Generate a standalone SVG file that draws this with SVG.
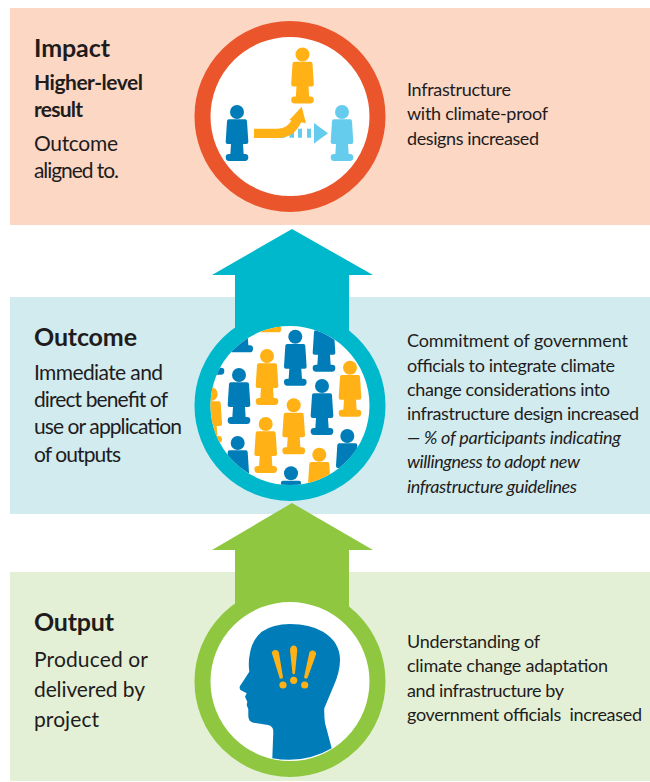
<svg xmlns="http://www.w3.org/2000/svg" xmlns:xlink="http://www.w3.org/1999/xlink" width="650" height="782" viewBox="0 0 650 782">
<style>
text{font-family:Lato,"Open Sans","Liberation Sans",sans-serif;fill:#1f1c1d;white-space:pre}
.h{font-size:25px;font-weight:700}
.b{font-size:21px;font-weight:700}
.l{font-size:21px}
.r{font-size:18px}
.i{font-size:18px;font-style:italic}
.blue{fill:#007db8}.yel{fill:#ffb116}.sky{fill:#66ccee}
</style>
<defs>
<g id="p"><g transform="scale(.3333)"><circle cx="0" cy="0" r="21"/><path d="M-24,22H24Q30,22 30,28L34,90Q34,96 28,96H18L20,126H24Q34,126 34,136Q34,147 24,147H-24Q-34,147 -34,136Q-34,126 -24,126H-20L-18,96H-28Q-34,96 -34,90L-30,28Q-30,22 -24,22Z"/></g></g>
<clipPath id="cp"><circle cx="290" cy="405.500" r="79.500"/></clipPath>
</defs>
<rect x="10" y="8" width="640" height="217" fill="#fbd7c4"/>
<rect x="10" y="297" width="640" height="217" fill="#d1ebee"/>
<rect x="10" y="572" width="640" height="209" fill="#e3f0d5"/>
<g id="connectors">
<path d="M292,229L373,275H349V340H235V275H212Z" fill="#00b8cc"/>
<path d="M292,503L373,550H349V620H235V550H212Z" fill="#8fc740"/>
</g>
<g id="impact">
<circle cx="290" cy="116.500" r="87.500" fill="#fff" stroke="#ea552b" stroke-width="16"/>
<use xlink:href="#p" href="#p" x="237" y="112" class="blue"/>
<use xlink:href="#p" href="#p" x="302.500" y="54.500" class="yel"/>
<use xlink:href="#p" href="#p" x="342" y="112" class="sky"/>
<path d="M280,133.300h5M289.500,133.300h4.500M298,133.300h4M307,133.300h4" stroke="#66ccee" stroke-width="9" fill="none"/>
<path d="M314,123L328,133.300L314,143.500Z" fill="#66ccee"/>
<path d="M254,133.300H278Q291,133.300 297,120" stroke="#ffb116" stroke-width="9.300" fill="none"/>
<path d="M289.300,120L301.700,106.700L306,123.300Z" fill="#ffb116"/>
<text x="34" y="56.700" class="h" textLength="76">Impact</text>
<text x="34" y="90" class="b" textLength="109">Higher-level</text>
<text x="34" y="116.700" class="b" textLength="49">result</text>
<text x="34" y="151" class="l" textLength="84">Outcome</text>
<text x="34" y="177.700" class="l" textLength="85">aligned to.</text>
<text x="407" y="96" class="r" textLength="104">Infrastructure</text>
<text x="407" y="120" class="r" textLength="141">with climate-proof</text>
<text x="407" y="145" class="r" textLength="132">designs increased</text>
</g>
<g id="outcome">
<circle cx="290" cy="405.500" r="87.500" fill="#fff" stroke="#00b8cc" stroke-width="16"/>
<g clip-path="url(#cp)">
<g class="blue">
<use xlink:href="#p" href="#p" x="295.300" y="336.700"/><use xlink:href="#p" href="#p" x="239" y="375"/><use xlink:href="#p" href="#p" x="322" y="386"/><use xlink:href="#p" href="#p" x="237.700" y="443"/><use xlink:href="#p" href="#p" x="347.300" y="436"/><use xlink:href="#p" href="#p" x="291" y="473.300"/><use xlink:href="#p" href="#p" x="324" y="322.700"/><use xlink:href="#p" href="#p" x="241.700" y="303.300"/><use xlink:href="#p" href="#p" x="213" y="325.700"/><use xlink:href="#p" href="#p" x="377" y="418"/>
</g>
<g class="yel">
<use xlink:href="#p" href="#p" x="267" y="356"/><use xlink:href="#p" href="#p" x="350" y="367.700"/><use xlink:href="#p" href="#p" x="293.700" y="405.300"/><use xlink:href="#p" href="#p" x="265.700" y="424"/><use xlink:href="#p" href="#p" x="319.300" y="454.700"/><use xlink:href="#p" href="#p" x="210.700" y="394"/><use xlink:href="#p" href="#p" x="270" y="283.300"/>
</g>
</g>
<text x="34" y="345.700" class="h" textLength="103">Outcome</text>
<text x="34" y="380" class="l" textLength="129">Immediate and</text>
<text x="34" y="407.300" class="l" textLength="134">direct benefit of</text>
<text x="34" y="434.300" class="l" textLength="148">use or application</text>
<text x="34" y="461.700" class="l" textLength="87">of outputs</text>
<text x="407" y="346.700" class="r" textLength="221">Commitment of government</text>
<text x="407" y="371.700" class="r" textLength="208">officials to integrate climate</text>
<text x="407" y="395.700" class="r" textLength="203">change considerations into</text>
<text x="407" y="420" class="r" textLength="232">infrastructure design increased</text>
<text x="407" y="444" class="i" textLength="214">— % of participants indicating</text>
<text x="407" y="468" class="i" textLength="173">willingness to adopt new</text>
<text x="407" y="492.700" class="i" textLength="170">infrastructure guidelines</text>
</g>
<g id="output">
<circle cx="290" cy="681.500" r="87.500" fill="#fff" stroke="#8fc740" stroke-width="16"/>
<path d="M272.300,758.300L273.300,732Q273.500,726 268,725L253.300,722.700Q248.300,721.500 248.300,716L248.300,709.300L246.700,705L247.300,701.700L245,696.700L246.700,693.300L240.500,690Q239,688 240,686L249.300,671.700Q248,662 250,653Q252,640 261.700,631.700Q273,624 290,624Q310,624 323,631.700Q340,642 340,660Q340,672 333.300,686.700L324.300,708.300Q324,716 325,723L331.700,748.300Q305,764 272.300,758.300Z" fill="#007db8"/>
<g fill="#ffb116">
<path d="M271.700,652.500Q273,649.500 275.300,650Q278.500,650 279,653L283,677.500Q281.500,679.500 279.800,678.500Z"/>
<path d="M290,650Q290.500,645.500 293.700,645.500Q297,645.500 297.300,650L295,673.500Q293.700,675 292.500,673.500Z"/>
<path d="M309.500,652Q311,650 313.300,650.500Q316.500,651.500 316,654.500L307.500,678Q305.500,679.500 304,677.500Z"/>
<circle cx="283" cy="685" r="3.600"/><circle cx="293.700" cy="680.300" r="3.600"/><circle cx="304.700" cy="685" r="3.600"/>
</g>
<text x="34" y="631" class="h" textLength="80">Output</text>
<text x="34" y="666.700" class="l" textLength="114">Produced or</text>
<text x="34" y="696.700" class="l" textLength="111">delivered by</text>
<text x="34" y="726.700" class="l" textLength="65">project</text>
<text x="407" y="647.700" class="r" textLength="133">Understanding of</text>
<text x="407" y="671.700" class="r" textLength="201">climate change adaptation</text>
<text x="407" y="696.700" class="r" textLength="157">and infrastructure by</text>
<text x="407" y="720.700" class="r" textLength="235">government officials  increased</text>
</g>
</svg>
